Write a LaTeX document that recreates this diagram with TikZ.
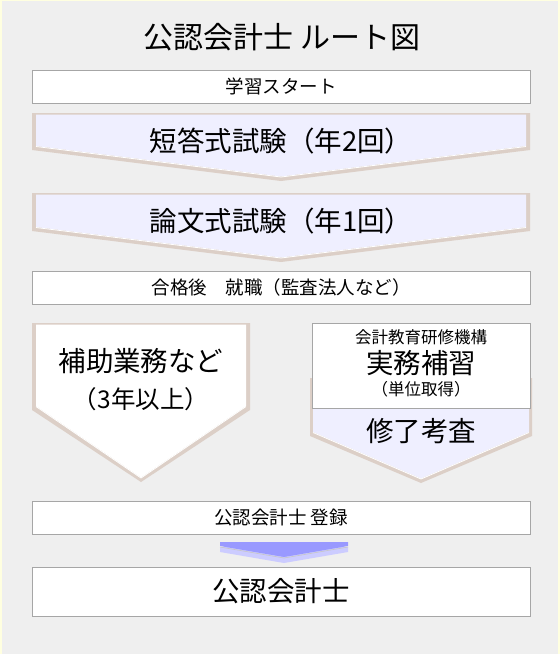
\documentclass[tikz,border=0pt]{standalone}
\usepackage{fontspec}
\setmainfont{Noto Sans CJK JP}
\usepackage{tikz}
\usepackage{xcolor}
\definecolor{bgpanel}{HTML}{EFEFEF}
\definecolor{bgedge}{HTML}{FFFFE0}
\definecolor{boxgray}{HTML}{A6A6A6}
\definecolor{lavender}{HTML}{EFEFFF}
\definecolor{bevelbeige}{HTML}{DCCFC7}
\definecolor{arrowblue}{HTML}{9999FF}
\definecolor{arrowpale}{HTML}{CCCCFF}

\begin{document}
\begin{tikzpicture}[x=1pt,y=-1pt,
  panel/.style={fill=white,draw=boxgray,line width=1pt,inner sep=0pt,minimum width=498pt},
  txthuge/.style={font=\fontsize{30}{32}\selectfont},
  txtbig/.style={font=\fontsize{27.5}{29}\selectfont},
  txtmid/.style={font=\fontsize{24.5}{26}\selectfont},
  txtsmall/.style={font=\fontsize{18.5}{20}\selectfont},
  txttiny/.style={font=\fontsize{16.5}{18}\selectfont}]
\useasboundingbox (0,0) rectangle (560,654);
\fill[bgedge] (0,0) rectangle (560,654);
\fill[bgpanel] (2,1) rectangle (558,654);
\node[txthuge] (title) at (282,37) {公認会計士 ルート図};
\node[panel,minimum height=33pt] (start) at (281,86.5) {};
\node[txtsmall] (startlbl) at (281,86.5) {学習スタート};
% short-answer exam
\fill[bevelbeige] (32,113) -- (530,113) -- (530,150) -- (281,181) -- (32,150) -- cycle;
\fill[lavender] (36,114.5) -- (526,114.5) -- (526,146) -- (281,176.5) -- (36,146) -- cycle;
\draw[white,line width=0.8pt] (36,146.5) -- (281,177) -- (526,146.5);
\node[txtbig] (tanto) at (281,141) {短答式試験（年2回）};
% essay exam
\fill[bevelbeige] (32,193) -- (530,193) -- (530,231) -- (281,262) -- (32,231) -- cycle;
\fill[lavender] (36,194.5) -- (526,194.5) -- (526,227) -- (281,257.5) -- (36,227) -- cycle;
\draw[white,line width=0.8pt] (36,227.5) -- (281,258) -- (526,227.5);
\node[txtbig] (ronbun) at (281,221) {論文式試験（年1回）};
\node[panel,minimum height=33pt] (shushoku) at (281,287.5) {};
\node[txtsmall] (shushokulbl) at (281,287.5) {合格後　就職（監査法人など）};
% left branch
\fill[bevelbeige] (32,323) -- (250,323) -- (250,410) -- (141,482) -- (32,410) -- cycle;
\fill[white] (36,324.5) -- (246,324.5) -- (246,406) -- (141,477.5) -- (36,406) -- cycle;
\draw[white,line width=0.8pt] (36,406.5) -- (141,478) -- (246,406.5);
\node[txtbig] (hojo) at (141,361) {補助業務など};
\node[txtmid] (hojonen) at (141,399) {（3年以上）};
% right branch
\fill[bevelbeige] (310,378) -- (532,378) -- (532,436) -- (421,483) -- (310,436) -- cycle;
\fill[lavender] (313,379.5) -- (529,379.5) -- (529,432) -- (421,478.5) -- (313,432) -- cycle;
\draw[white,line width=0.8pt] (313,432.5) -- (421,479) -- (529,432.5);
\node[panel,minimum width=218pt,minimum height=85pt,anchor=north west] (kikou) at (312,323) {};
\node[txttiny] (kikoumei) at (421,337) {会計教育研修機構};
\node[txtbig] (jitsumu) at (421,363) {実務補習};
\node[txttiny] (tani) at (421,389) {（単位取得）};
\node[txtbig] (shuryo) at (421,431) {修了考査};
% registration
\node[panel,minimum height=33pt] (toroku) at (281,517.5) {};
\node[txtsmall] (torokulbl) at (281,517.5) {公認会計士 登録};
\fill[arrowpale] (220,547) -- (348,547) -- (348,552) -- (284,563) -- (220,552) -- cycle;
\draw[gray!45,line width=0.6pt] (220,547) -- (284,558) -- (348,547);
\fill[arrowblue] (220,542) -- (348,542) -- (348,546) -- (284,557) -- (220,546) -- cycle;
\node[panel,minimum height=49pt] (cpa) at (281,591.5) {};
\node[txtbig] (cpalbl) at (281,591.5) {公認会計士};
\end{tikzpicture}
\end{document}
